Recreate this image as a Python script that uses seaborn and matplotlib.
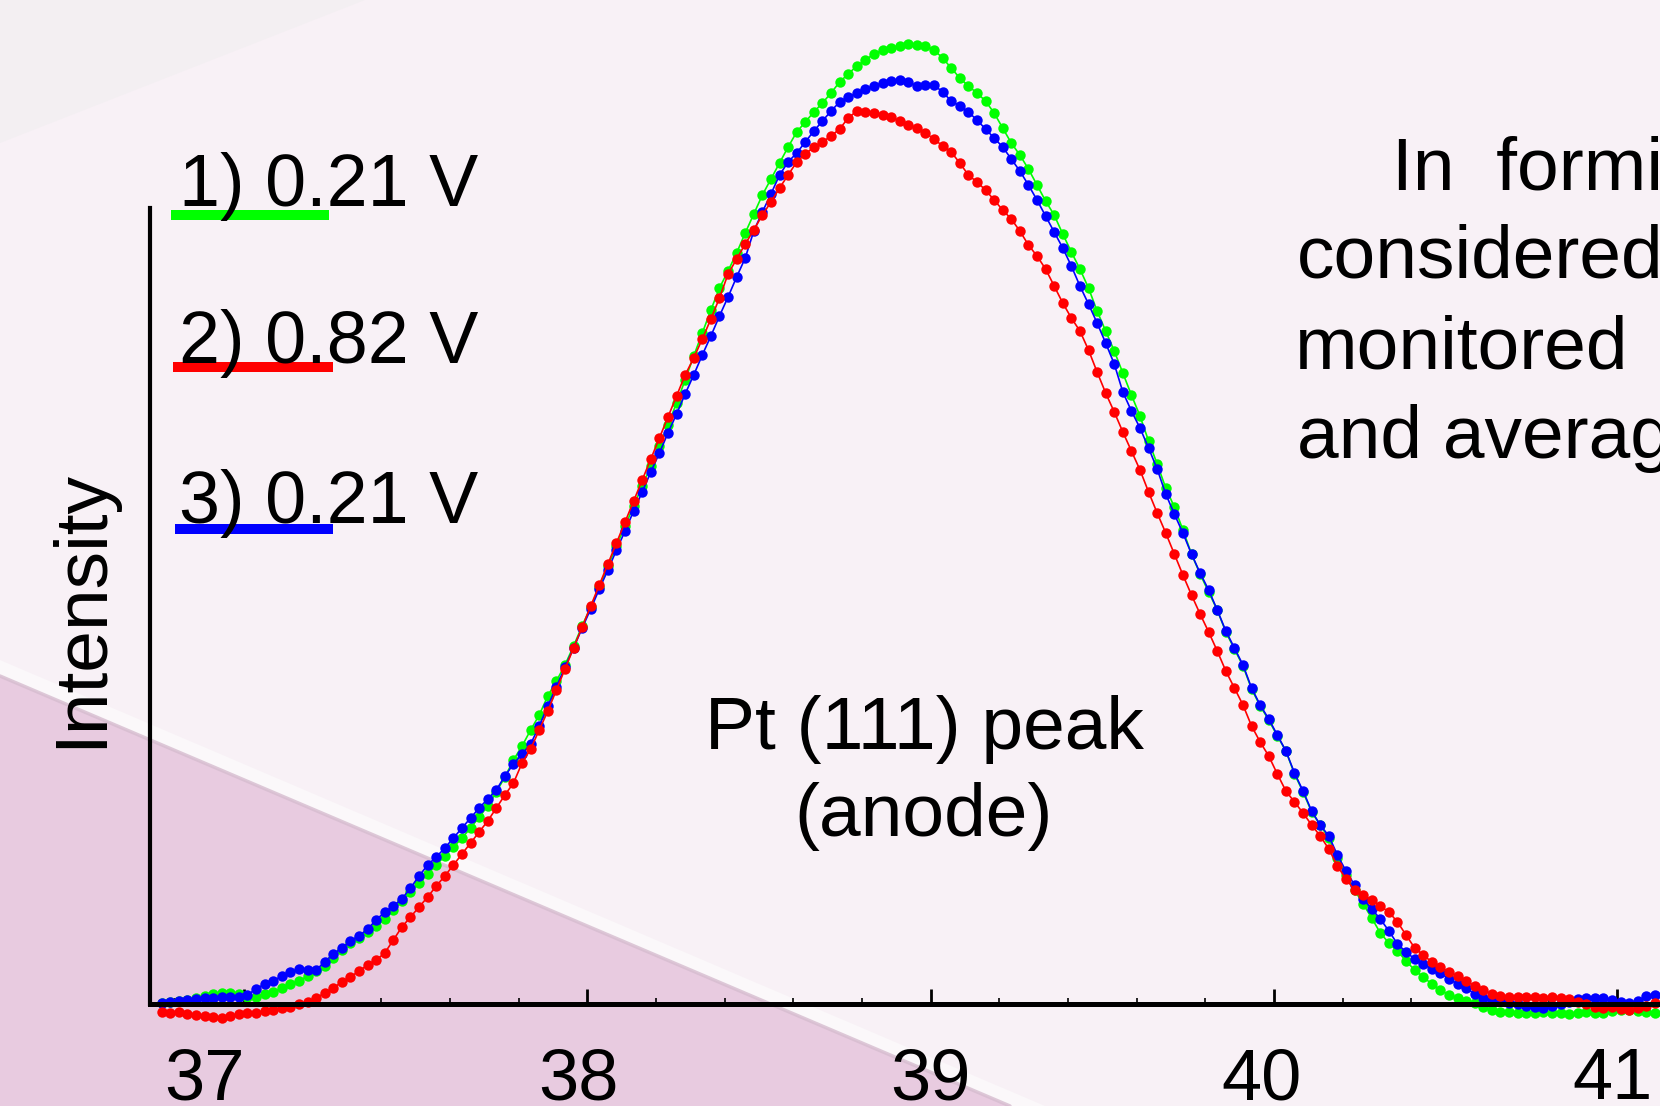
import numpy as np
import pandas as pd
import matplotlib
matplotlib.use("Agg")
import matplotlib.pyplot as plt
from matplotlib.lines import Line2D
from matplotlib.patches import Polygon
from matplotlib.ticker import MultipleLocator
from matplotlib.transforms import ScaledTranslation
import seaborn as sns

W, H = 1660, 1106

# 2-theta scan grid (deg)
TWO_THETA_START = 36.76
TWO_THETA_STEP = 0.025

scan_labels = ["1) 0.21 V", "2) 0.82 V", "3) 0.21 V"]
scan_colors = ["#00ff00", "#ff0000", "#0000ff"]

# 1) 0.21 V  (green)
intensity_1 = [
    0.1, 0.2, 0.3, 0.4, 0.6, 0.8, 1.0, 1.1, 1.1, 1.0,
    0.7, 0.7, 1.0, 1.2, 1.6, 2.0, 2.3, 2.8, 3.3, 3.8,
    4.6, 5.4, 6.1, 6.6, 7.2, 7.8, 8.5, 9.4, 10.3, 11.2,
    12.1, 13.0, 13.9, 14.8, 15.7, 16.6, 17.6, 18.7, 19.8, 21.2,
    22.7, 24.4, 25.8, 27.4, 28.9, 30.8, 32.3, 33.9, 35.8, 37.8,
    39.7, 41.7, 43.8, 45.8, 47.8, 49.8, 51.8, 53.8, 55.8, 57.9,
    60.1, 62.4, 64.8, 67.1, 69.4, 71.6, 73.3, 75.1, 77.1, 79.0,
    80.9, 82.5, 84.1, 85.7, 87.2, 88.2, 89.2, 90.1, 91.1, 92.2,
    93.0, 93.8, 94.4, 95.0, 95.4, 95.6, 95.8, 96.0, 95.9, 95.8,
    95.4, 94.6, 93.6, 92.6, 91.8, 91.1, 90.3, 89.1, 87.6, 86.1,
    84.9, 83.5, 81.9, 80.3, 78.9, 77.0, 75.2, 73.5, 71.6, 69.3,
    67.3, 65.3, 63.1, 60.9, 58.8, 56.3, 54.0, 51.6, 49.7, 47.4,
    45.0, 43.0, 41.2, 39.4, 37.2, 35.5, 33.8, 31.5, 29.8, 28.4,
    26.8, 25.3, 23.0, 21.2, 19.2, 17.9, 16.6, 14.6, 12.9, 11.4,
    10.0, 8.6, 7.1, 6.1, 5.3, 4.3, 3.4, 2.7, 2.0, 1.4,
    0.9, 0.6, 0.3, 0.1, -0.3, -0.6, -0.8, -0.8, -0.9, -0.9,
    -0.9, -0.8, -0.9, -0.9, -1.0, -0.9, -0.8, -0.9, -0.9, -0.7,
    -0.6, -0.6, -0.7, -0.8, -0.9,
]

# 2) 0.82 V  (red)
intensity_2 = [
    -0.8, -0.9, -0.8, -1.0, -1.1, -1.2, -1.3, -1.4, -1.2, -1.0,
    -0.9, -0.9, -0.7, -0.6, -0.4, -0.3, 0.0, 0.2, 0.6, 1.1,
    1.6, 2.2, 2.7, 3.3, 3.9, 4.4, 5.1, 6.4, 7.7, 8.7,
    9.7, 10.7, 11.8, 12.8, 13.9, 15.0, 16.1, 17.2, 18.3, 19.6,
    20.9, 22.1, 24.1, 25.5, 27.4, 29.3, 31.4, 33.5, 35.6, 37.7,
    39.8, 41.9, 44.0, 46.1, 48.2, 50.3, 52.4, 54.5, 56.6, 58.7,
    60.8, 62.9, 64.6, 66.5, 68.5, 70.6, 73.0, 74.5, 76.0, 77.4,
    78.9, 80.2, 81.6, 82.9, 84.2, 85.0, 85.7, 86.2, 86.8, 87.5,
    88.6, 89.3, 89.2, 89.1, 88.9, 88.7, 88.3, 87.9, 87.6, 87.1,
    86.5, 85.8, 85.2, 84.1, 82.9, 82.2, 81.4, 80.4, 79.4, 78.5,
    77.3, 75.9, 74.8, 73.5, 71.8, 70.1, 68.6, 67.3, 65.4, 63.2,
    61.1, 59.2, 57.2, 55.3, 53.4, 51.2, 49.1, 47.1, 45.0, 42.9,
    40.9, 39.0, 37.2, 35.3, 33.3, 31.6, 29.9, 27.8, 26.2, 24.8,
    23.0, 21.3, 20.2, 19.1, 17.9, 16.8, 15.5, 13.8, 12.5, 11.4,
    10.9, 10.4, 9.8, 9.2, 8.2, 6.9, 5.6, 4.9, 4.2, 3.7,
    3.2, 2.8, 2.3, 1.8, 1.4, 1.0, 0.8, 0.7, 0.7, 0.7,
    0.7, 0.6, 0.7, 0.6, 0.5, 0.2, 0.0, -0.3, -0.4, -0.3,
    -0.5, -0.6, -0.4, -0.2, 0.1,
]

# 3) 0.21 V  (blue)
intensity_3 = [
    0.1, 0.2, 0.3, 0.4, 0.5, 0.6, 0.6, 0.7, 0.7, 0.7,
    0.9, 1.5, 2.0, 2.3, 2.8, 3.2, 3.5, 3.4, 3.4, 4.2,
    5.0, 5.6, 6.3, 6.8, 7.5, 8.4, 9.2, 9.8, 10.5, 11.6,
    12.8, 13.9, 14.7, 15.6, 16.6, 17.6, 18.6, 19.6, 20.5, 21.4,
    22.8, 24.0, 25.0, 26.0, 27.8, 29.8, 31.7, 33.7, 35.6, 37.6,
    39.5, 41.5, 43.4, 45.4, 47.3, 49.3, 51.2, 53.2, 55.1, 57.1,
    59.0, 61.0, 62.9, 64.9, 66.8, 68.8, 70.7, 72.7, 74.6, 77.3,
    79.2, 81.0, 82.9, 84.2, 85.1, 86.2, 87.3, 88.3, 89.3, 90.2,
    90.7, 91.1, 91.5, 91.8, 92.1, 92.3, 92.4, 92.2, 91.8, 91.9,
    91.9, 91.2, 90.3, 89.8, 89.2, 88.4, 87.5, 86.6, 85.7, 84.5,
    83.3, 81.9, 80.4, 78.8, 77.2, 75.6, 73.8, 71.8, 70.0, 68.1,
    66.1, 64.0, 61.2, 59.3, 57.6, 55.6, 53.5, 51.0, 49.0, 47.1,
    45.0, 43.1, 41.4, 39.4, 37.3, 35.6, 33.9, 31.6, 29.9, 28.5,
    26.9, 25.3, 23.1, 21.3, 19.3, 17.9, 16.8, 14.9, 13.3, 11.9,
    10.5, 9.5, 8.5, 7.3, 6.0, 5.2, 4.5, 4.0, 3.5, 3.1,
    2.5, 2.0, 1.6, 1.0, 0.6, 0.4, 0.3, 0.1, 0.0, -0.2,
    -0.3, -0.4, -0.2, 0.0, 0.2, 0.5, 0.6, 0.6, 0.6, 0.4,
    0.2, 0.1, 0.3, 0.8, 0.9,
]

x_ticks = [37, 38, 39, 40, 41]
side_text = ["In  formi", "considered", "monitored", "and averag"]
peak_text = ["Pt (111) peak", "(anode)"]


def fx(px):
    return px / W


def fy(py):
    return 1 - py / H


two_theta = np.round(TWO_THETA_START + TWO_THETA_STEP * np.arange(len(intensity_1)), 3)
df = pd.concat([
    pd.DataFrame({"two_theta": two_theta, "intensity": vals, "scan": lab})
    for vals, lab in zip([intensity_1, intensity_2, intensity_3], scan_labels)
], ignore_index=True)

sns.set_style("ticks")
plt.rcParams["font.family"] = ["Liberation Sans", "DejaVu Sans"]

fig = plt.figure(figsize=(W / 100, H / 100), dpi=100)
fig.patch.set_facecolor("#f8f1f6")

# slide background (behind the axes)
bg = dict(transform=fig.transFigure, edgecolor="none", zorder=-5, closed=True)
fig.patches.append(Polygon([(0, 1), (fx(365), 1), (0, fy(143))], facecolor="#f3eff2", **bg))
fig.patches.append(Polygon([(0, fy(660)), (fx(1045), 0), (fx(1010), 0), (0, fy(676))],
                           facecolor="#fbf8fa", **bg))
fig.patches.append(Polygon([(0, fy(676)), (fx(1010), 0), (0, 0)], facecolor="#e8cbe0", **bg))
fig.lines.append(Line2D([0, fx(1010)], [fy(676), 0], transform=fig.transFigure,
                        color="#d6bccf", lw=2.5, alpha=0.8, zorder=-4))

ax = fig.add_axes([fx(150), 0, 1 - fx(150), 1])
ax.patch.set_alpha(0)

order = [scan_labels[0], scan_labels[2], scan_labels[1]]
palette = dict(zip(scan_labels, scan_colors))
sns.lineplot(data=df, x="two_theta", y="intensity", hue="scan", hue_order=order,
             palette=palette, marker="o", markersize=7.5, markeredgewidth=0,
             linewidth=1.2, estimator=None, sort=False, legend=False, ax=ax)

ax.set_xlim(36.7262, 41.1247)
ax.set_ylim(-10.2, 100.4)

for s in ["top", "right"]:
    ax.spines[s].set_visible(False)
ax.spines["bottom"].set_position(("data", 0))
ax.spines["bottom"].set_linewidth(3.6)
ax.spines["left"].set_linewidth(3.0)
ax.spines["left"].set_bounds(0, 79.6)
for s in ["bottom", "left"]:
    ax.spines[s].set_color("black")

ax.set_yticks([])
ax.set_xticks(x_ticks)
ax.set_xticklabels([str(t) for t in x_ticks])
ax.xaxis.set_minor_locator(MultipleLocator(0.2))
ax.tick_params(axis="x", which="major", direction="in", length=11, width=2,
               labelsize=52, pad=31, colors="black")
ax.tick_params(axis="x", which="minor", direction="in", length=4.5, width=1.2, colors="black")
# labels on the slide sit a little left of their ticks
for lab, dx in zip(ax.get_xticklabels(), [-40, -9, 0, -12, -5]):
    lab.set_transform(lab.get_transform() + ScaledTranslation(dx / 100, 0, fig.dpi_scale_trans))
ax.set_xlabel("")
ax.set_ylabel("Intensity", fontsize=54, va="center", color="black")
ax.yaxis.set_label_coords((82 - 150) / (W - 150), fy(609))

# series key, drawn as on the slide: text with a coloured underline
key_y = [206, 363, 523]
key_line = [(171, 329, 215), (173, 333, 367), (175, 333, 529)]
for lab, col, by, (x0, x1, ly) in zip(scan_labels, scan_colors, key_y, key_line):
    fig.text(fx(179), fy(by), lab, fontsize=53, ha="left", va="baseline", color="black")
    fig.lines.append(Line2D([fx(x0), fx(x1)], [fy(ly), fy(ly)], transform=fig.transFigure,
                            color=col, lw=7.2, solid_capstyle="butt", zorder=3))

for txt, (px, by) in zip(side_text, [(1392, 190), (1297, 277), (1295, 368), (1297, 458)]):
    fig.text(fx(px), fy(by), txt, fontsize=54, ha="left", va="baseline", color="black")

for txt, by in zip(peak_text, [749, 836]):
    fig.text(fx(924), fy(by), txt, fontsize=54, ha="center", va="baseline", color="black")

fig.savefig("out.png", dpi=100, facecolor=fig.get_facecolor())
